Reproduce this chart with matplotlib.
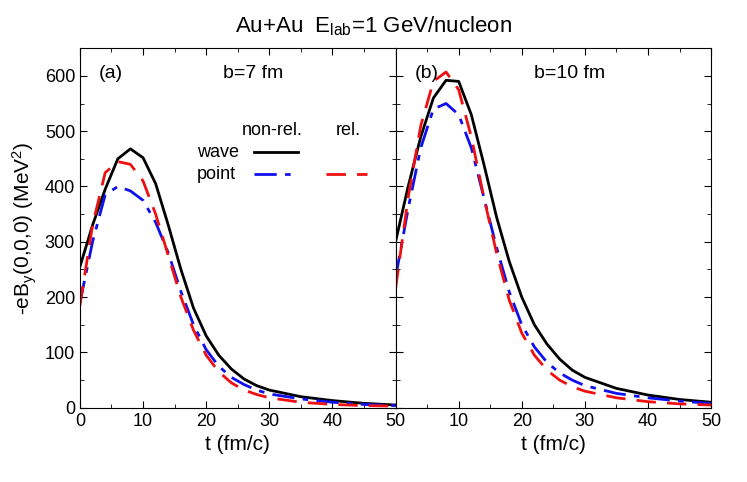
import numpy as np
import matplotlib.pyplot as plt
from matplotlib.ticker import MultipleLocator
from matplotlib.lines import Line2D

plt.rcParams["font.family"] = "Liberation Sans"
plt.rcParams["mathtext.fontset"] = "custom"
plt.rcParams["mathtext.rm"] = "Liberation Sans"
plt.rcParams["mathtext.it"] = "Liberation Sans"
plt.rcParams["font.size"] = 13

t = [0, 2, 4, 6, 8, 10, 12, 14, 16, 18, 20, 22, 24, 26, 28, 30, 35, 40, 45, 50]

# panel (a), b=7 fm
wave_a = [255, 330, 395, 450, 468, 452, 405, 330, 250, 180, 130, 95, 70, 52, 40, 32, 20, 13, 8, 5]
point_a = [190, 300, 385, 400, 392, 375, 335, 280, 210, 150, 105, 75, 55, 42, 32, 25, 16, 10, 6, 4]
rel_a = [185, 330, 425, 445, 440, 410, 350, 275, 200, 140, 95, 65, 45, 32, 24, 18, 10, 6, 4, 3]

# panel (b), b=10 fm
wave_b = [300, 400, 490, 560, 592, 590, 530, 440, 345, 265, 200, 150, 115, 88, 68, 55, 35, 23, 15, 10]
point_b = [235, 360, 470, 540, 550, 530, 470, 380, 290, 210, 150, 110, 82, 63, 50, 40, 26, 18, 12, 8]
rel_b = [215, 380, 510, 590, 607, 575, 490, 380, 280, 195, 135, 95, 68, 50, 38, 30, 18, 11, 7, 5]

fig, axes = plt.subplots(1, 2, figsize=(7.47, 4.82), dpi=100, sharey=True)
fig.subplots_adjust(left=0.107, right=0.952, bottom=0.154, top=0.90, wspace=0)

panels = [(axes[0], wave_a, point_a, rel_a, "(a)", "b=7 fm"),
          (axes[1], wave_b, point_b, rel_b, "(b)", "b=10 fm")]
for ax, w, p, r, tag, blabel in panels:
    ax.plot(t, w, color="k", lw=2)
    ax.plot(t, p, color="#1010ee", lw=2, dashes=(8, 3, 2, 3))
    ax.plot(t, r, color="#ee1010", lw=2, dashes=(7, 4))
    ax.set_xlim(0, 50)
    ax.set_ylim(0, 650)
    ax.xaxis.set_major_locator(MultipleLocator(10))
    ax.xaxis.set_minor_locator(MultipleLocator(5))
    ax.yaxis.set_major_locator(MultipleLocator(100))
    ax.yaxis.set_minor_locator(MultipleLocator(50))
    ax.tick_params(which="both", direction="in", top=True, right=True)
    ax.tick_params(which="major", length=5)
    ax.tick_params(which="minor", length=3)
    ax.set_xlabel("t (fm/c)", fontsize=15)
    ax.text(0.06, 0.93, tag, transform=ax.transAxes, fontsize=14, va="center")
    ax.text(0.55, 0.93, blabel, transform=ax.transAxes, fontsize=14, va="center", ha="center")

axes[1].tick_params(labelleft=False)
axes[1].set_xticks([10, 20, 30, 40, 50])
axes[0].set_ylabel("-eB$_{\\rm y}$(0,0,0) (MeV$^2$)", fontsize=15)

# legend table in panel (a)
ax = axes[0]
ax.text(0.61, 0.77, "non-rel.", transform=ax.transAxes, fontsize=13, ha="center", va="center")
ax.text(0.85, 0.77, "rel.", transform=ax.transAxes, fontsize=13, ha="center", va="center")
ax.text(0.37, 0.71, "wave", transform=ax.transAxes, fontsize=13, va="center")
ax.text(0.37, 0.65, "point", transform=ax.transAxes, fontsize=13, va="center")
ax.add_line(Line2D([0.55, 0.69], [0.71, 0.71], transform=ax.transAxes, color="k", lw=2))
ax.add_line(Line2D([0.55, 0.69], [0.65, 0.65], transform=ax.transAxes,
                   color="#1010ee", lw=2, dashes=(8, 3, 2, 3)))
ax.add_line(Line2D([0.78, 0.91], [0.65, 0.65], transform=ax.transAxes,
                   color="#ee1010", lw=2, dashes=(7, 4)))

fig.suptitle("Au+Au  E$_{\\rm lab}$=1 GeV/nucleon", fontsize=16, y=0.97)
fig.savefig("out.png", dpi=100)
